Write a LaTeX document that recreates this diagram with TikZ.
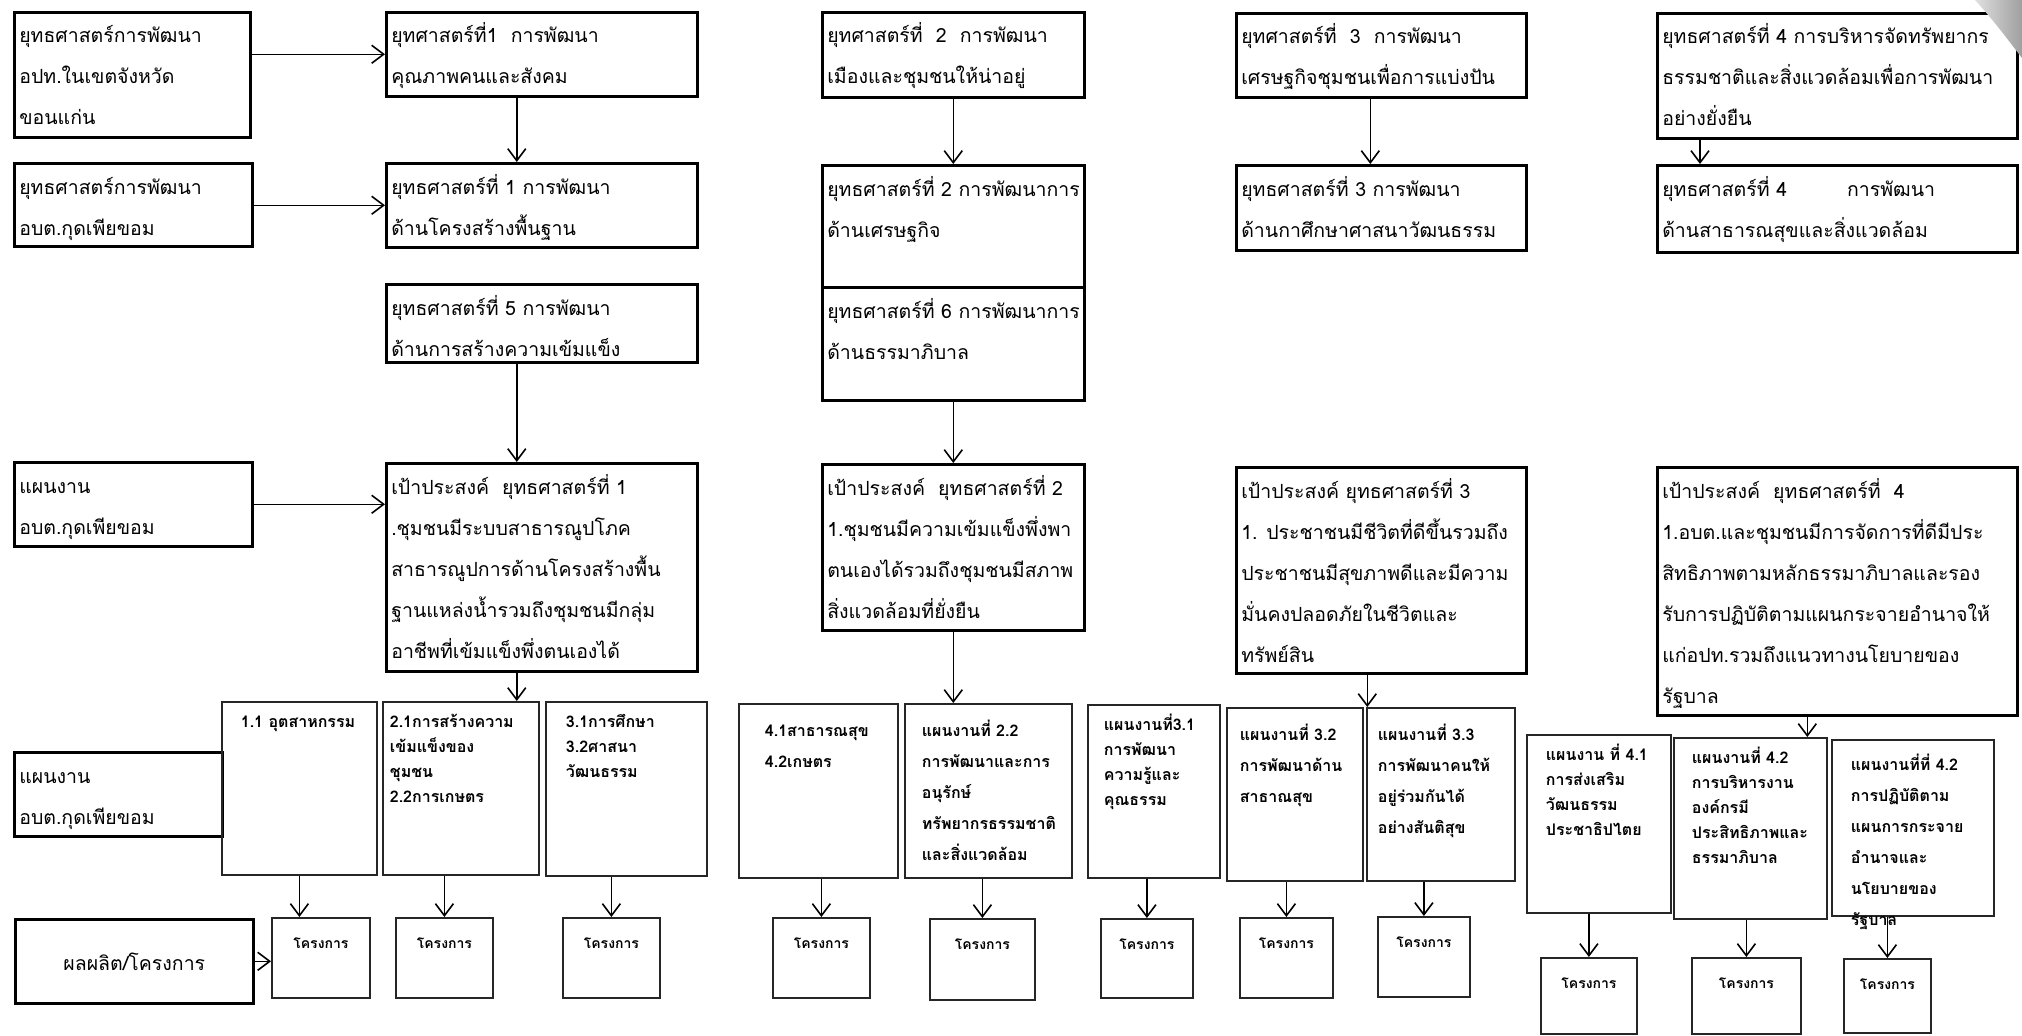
\documentclass[tikz,border=0pt]{standalone}
\usepackage{fontspec}
\setmainfont[Script=Thai]{Loma}
\usetikzlibrary{arrows.meta}

% text block of fixed size: width, height, top gap, left gap, text
\newcommand{\boxtxt}[5]{\makebox[#1pt][l]{\parbox[t][#2pt][t]{600pt}{\raggedright\leftskip=#4pt\vspace*{#3pt}\strut #5}}}
% centred label near the top of a project box: width, height, text
\newcommand{\projtxt}[3]{\parbox[t][#2pt][t]{#1pt}{\centering\vspace*{13pt}\strut #3}}

\begin{document}
\begin{tikzpicture}[x=1pt,y=-1pt,
    box/.style={draw,line width=2.6pt,inner sep=0pt,anchor=north west,font=\fontsize{19.5}{41}\selectfont},
    plan/.style={draw=black!85,line width=1.8pt,inner sep=0pt,anchor=north west,font=\bfseries\fontsize{16}{25}\selectfont},
    planl/.style={plan,font=\bfseries\fontsize{16}{31}\selectfont},
    proj/.style={plan,font=\bfseries\fontsize{14}{25}\selectfont},
    arr/.style={-{Straight Barb[length=12pt,width=18pt]},line width=1.6pt}]
      \fill[white] (0,0) rectangle (2022,1036);
      \useasboundingbox (0,0) rectangle (2022,1036);
      % left column
      \node[box] (a1) at (13,11) {\boxtxt{236}{125}{2}{5}{ยุทธศาสตร์การพัฒนา\\อปท.ในเขตจังหวัด\\ขอนแก่น}};
      \node[box] (a2) at (13,162) {\boxtxt{238}{83}{2}{5}{ยุทธศาสตร์การพัฒนา\\อบต.กุดเพียขอม}};
      \node[box] (p1) at (13,461) {\boxtxt{238}{84}{2}{5}{แผนงาน\\อบต.กุดเพียขอม}};
      \node[box] (p2) at (13,751) {\boxtxt{208}{84}{2}{5}{แผนงาน\\อบต.กุดเพียขอม}};
      \node[box,minimum width=238,minimum height=84] (out) at (14,918) {ผลผลิต/โครงการ};
      % strategies
      \node[box] (s1) at (385,11) {\boxtxt{311}{84}{2}{5}{ยุทศาสตร์ที่1\ \ การพัฒนา\\คุณภาพคนและสังคม}};
      \node[box] (s1b) at (385,162) {\boxtxt{311}{84}{2}{5}{ยุทธศาสตร์ที่ 1 การพัฒนา\\ด้านโครงสร้างพื้นฐาน}};
      \node[box] (s5) at (385,283) {\boxtxt{311}{78}{2}{5}{ยุทธศาสตร์ที่ 5 การพัฒนา\\ด้านการสร้างความเข้มแข็ง}};
      \node[box] (s2) at (821,11) {\boxtxt{262}{85}{2}{5}{ยุทศาสตร์ที่\ \ 2\ \ การพัฒนา\\เมืองและชุมชนให้น่าอยู่}};
      \node[box] (s2b) at (821,164) {\boxtxt{262}{122}{2}{5}{ยุทธศาสตร์ที่ 2 การพัฒนาการ\\ด้านเศรษฐกิจ}};
      \node[box] (s6) at (821,286) {\boxtxt{262}{113}{2}{5}{ยุทธศาสตร์ที่ 6 การพัฒนาการ\\ด้านธรรมาภิบาล}};
      \node[box] (s3) at (1235,12) {\boxtxt{290}{84}{2}{5}{ยุทศาสตร์ที่\ \ 3\ \ การพัฒนา\\เศรษฐกิจชุมชนเพื่อการแบ่งปัน}};
      \node[box] (s3b) at (1235,164) {\boxtxt{290}{85}{2}{5}{ยุทธศาสตร์ที่ 3 การพัฒนา\\ด้านกาศึกษาศาสนาวัฒนธรรม}};
      \node[box] (s4) at (1656,12) {\boxtxt{360}{125}{2}{5}{ยุทธศาสตร์ที่ 4 การบริหารจัดทรัพยากร\\ธรรมชาติและสิ่งแวดล้อมเพื่อการพัฒนา\\อย่างยั่งยืน}};
      \node[box] (s4b) at (1656,164) {\boxtxt{360}{87}{2}{5}{ยุทธศาสตร์ที่ 4\hspace{60pt}การพัฒนา\\ด้านสาธารณสุขและสิ่งแวดล้อม}};
      % goals
      \node[box] (g1) at (385,462) {\boxtxt{311}{208}{2}{5}{เป้าประสงค์\ \ ยุทธศาสตร์ที่ 1\\.ชุมชนมีระบบสาธารณูปโภค\\สาธารณูปการด้านโครงสร้างพื้น\\ฐานแหล่งน้ำรวมถึงชุมชนมีกลุ่ม\\อาชีพที่เข้มแข็งพึ่งตนเองได้}};
      \node[box] (g2) at (821,463) {\boxtxt{262}{166}{2}{5}{เป้าประสงค์\ \ ยุทธศาสตร์ที่ 2\\1.ชุมชนมีความเข้มแข็งพึ่งพา\\ตนเองได้รวมถึงชุมชนมีสภาพ\\สิ่งแวดล้อมที่ยั่งยืน}};
      \node[box] (g3) at (1235,466) {\boxtxt{290}{206}{2}{5}{เป้าประสงค์ ยุทธศาสตร์ที่ 3\\1. ประชาชนมีชีวิตที่ดีขึ้นรวมถึง\\ประชาชนมีสุขภาพดีและมีความ\\มั่นคงปลอดภัยในชีวิตและ\\ทรัพย์สิน}};
      \node[box] (g4) at (1656,466) {\boxtxt{360}{248}{2}{5}{เป้าประสงค์\ \ ยุทธศาสตร์ที่\ \ 4\\1.อบต.และชุมชนมีการจัดการที่ดีมีประ\\สิทธิภาพตามหลักธรรมาภิบาลและรอง\\รับการปฏิบัติตามแผนกระจายอำนาจให้\\แก่อปท.รวมถึงแนวทางนโยบายของ\\รัฐบาล}};
      % plans
      \node[plan] (p11) at (221,701) {\boxtxt{155}{173}{8}{19}{1.1 อุตสาหกรรม}};
      \node[plan] (p21) at (382,701) {\boxtxt{156}{173}{8}{7}{2.1การสร้างความ\\เข้มแข็งของ\\ชุมชน\\2.2การเกษตร}};
      \node[plan] (p31) at (545,701) {\boxtxt{161}{174}{8}{20}{3.1การศึกษา\\3.2ศาสนา\\วัฒนธรรม}};
      \node[planl] (p41) at (738,703) {\boxtxt{159}{174}{11}{26}{4.1สาธารณสุข\\4.2เกษตร}};
      \node[planl] (p22) at (904,703) {\boxtxt{167}{174}{11}{17}{แผนงานที่ 2.2\\การพัฒนาและการ\\อนุรักษ์\\ทรัพยากรธรรมชาติ\\และสิ่งแวดล้อม}};
      \node[plan] (p31b) at (1087,704) {\boxtxt{132}{173}{8}{16}{แผนงานที่3.1\\การพัฒนา\\ความรู้และ\\คุณธรรม}};
      \node[planl] (p32) at (1226,707) {\boxtxt{136}{173}{11}{13}{แผนงานที่ 3.2\\การพัฒนาด้าน\\สาธาณสุข}};
      \node[planl] (p33) at (1366,707) {\boxtxt{148}{173}{11}{11}{แผนงานที่ 3.3\\การพัฒนาคนให้\\อยู่ร่วมกันได้\\อย่างสันติสุข}};
      \node[plan] (q41) at (1526,734) {\boxtxt{144}{178}{8}{19}{แผนงาน ที่ 4.1\\การส่งเสริม\\วัฒนธรรม\\ประชาธิปไตย}};
      \node[plan] (q42) at (1673,737) {\boxtxt{153}{181}{8}{18}{แผนงานที่ 4.2\\การบริหารงาน\\องค์กรมี\\ประสิทธิภาพและ\\ธรรมาภิบาล}};
      \node[planl] (q42b) at (1831,739) {\boxtxt{162}{176}{9}{19}{แผนงานที่ที่ 4.2\\การปฏิบัติตาม\\แผนการกระจาย\\อำนาจและ\\นโยบายของ\\รัฐบาล}};
      % projects
      \node[proj] (pr1) at (271,917) {\projtxt{98}{80}{โครงการ}};
      \node[proj] (pr2) at (395,917) {\projtxt{97}{80}{โครงการ}};
      \node[proj] (pr3) at (562,917) {\projtxt{97}{80}{โครงการ}};
      \node[proj] (pr4) at (772,917) {\projtxt{97}{80}{โครงการ}};
      \node[proj] (pr5) at (929,918) {\projtxt{105}{81}{โครงการ}};
      \node[proj] (pr6) at (1100,918) {\projtxt{92}{79}{โครงการ}};
      \node[proj] (pr7) at (1239,917) {\projtxt{93}{80}{โครงการ}};
      \node[proj] (pr8) at (1377,916) {\projtxt{92}{80}{โครงการ}};
      \node[proj] (pr9) at (1540,957) {\projtxt{96}{76}{โครงการ}};
      \node[proj] (pr10) at (1691,957) {\projtxt{109}{76}{โครงการ}};
      \node[proj] (pr11) at (1843,958) {\projtxt{87}{74}{โครงการ}};
      % arrows
      \draw[arr] (a1.east |- s1.west) -- (s1.west);
      \draw[arr] (a2.east |- s1b.west) -- (s1b.west);
      \draw[arr] (p1.east) -- (p1.east -| g1.west);
      \draw[arr] (out.east) -- (out.east -| pr1.west);
      \draw[arr] ([xshift=-25pt]s1.south) -- ([xshift=-25pt]s1b.north);
      \draw[arr] (s2.south) -- (s2b.north);
      \draw[arr] ([xshift=-11pt]s3.south) -- ([xshift=-11pt]s3b.north);
      \draw[arr] ([xshift=44pt]s4.south west) -- ([xshift=44pt]s4b.north west);
      \draw[arr] ([xshift=-25pt]s5.south) -- ([xshift=-25pt]g1.north);
      \draw[arr] (s6.south) -- (g2.north);
      \draw[arr] ([xshift=-25pt]g1.south) -- ([xshift=-25pt]g1.south |- p21.north);
      \draw[arr] (g2.south) -- (g2.south |- p22.north);
      \draw[arr] ([xshift=-14pt]g3.south) -- ([xshift=-14pt]g3.south |- p33.north);
      \draw[arr] ([xshift=-30pt]g4.south) -- ([xshift=-30pt]g4.south |- q42.north);
      \draw[arr] (p11.south) -- (p11.south |- pr1.north);
      \draw[arr] (pr2.north |- p21.south) -- (pr2.north);
      \draw[arr] (pr3.north |- p31.south) -- (pr3.north);
      \draw[arr] (pr4.north |- p41.south) -- (pr4.north);
      \draw[arr] (pr5.north |- p22.south) -- (pr5.north);
      \draw[arr] (pr6.north |- p31b.south) -- (pr6.north);
      \draw[arr] (pr7.north |- p32.south) -- (pr7.north);
      \draw[arr] (pr8.north |- p33.south) -- (pr8.north);
      \draw[arr] (pr9.north |- q41.south) -- (pr9.north);
      \draw[arr] (pr10.north |- q42.south) -- (pr10.north);
      \draw[arr] (pr11.north |- q42b.south) -- (pr11.north);
      % curled corner
      \shade[left color=gray!25,right color=gray!75] (1975,0) -- (2022,0) -- (2022,58) .. controls (2008,40) and (1995,22) .. (1975,0);
    \end{tikzpicture}
\end{document}
